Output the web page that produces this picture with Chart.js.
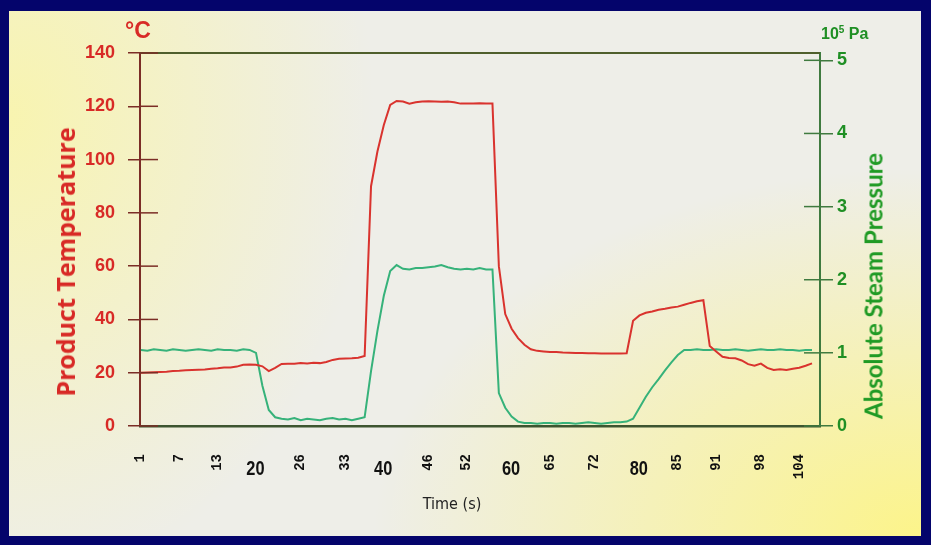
<!DOCTYPE html>
<html>
<head>
<meta charset="utf-8">
<script src="https://cdn.jsdelivr.net/npm/chart.js@4.4.1/dist/chart.umd.min.js"></script>
<style>
  html, body { margin: 0; padding: 0; }
  body { width: 931px; height: 545px; background: #04046b; position: relative; overflow: hidden; }
  #panel {
    position: absolute; left: 9px; top: 11px; width: 912px; height: 525px;
    background:
      radial-gradient(ellipse 60% 70% at 100% 100%, #fcf48a 0%, rgba(252,244,138,0) 100%),
      radial-gradient(ellipse 40% 90% at 0% 20%, #f8f4b0 0%, rgba(248,244,176,0) 100%),
      #eeeee8;
  }
  canvas { position: absolute; left: 0; top: 0; }
  .lbl { position: absolute; white-space: nowrap; font-weight: bold; }
  .rot { transform: translate(-50%, -50%) rotate(-90deg); }
</style>
</head>
<body>
<div id="panel"></div>
<canvas id="chart" width="931" height="545"></canvas>
<div class="lbl" style="left:125px; top:17px; color:#d82a26; font: bold 23px 'Liberation Sans', sans-serif;">°C</div>
<div class="lbl" style="left:821px; top:24px; color:#1f8f24; font: bold 16px 'Liberation Sans', sans-serif;">10<sup style="font-size:10px">5</sup> Pa</div>
<div class="lbl rot" style="left:65px; top:262px; color:#d82a26; font: bold 25px 'Open Sans', sans-serif;">Product Temperature</div>
<div class="lbl rot" style="left:873px; top:286px; color:#1f9a24; font: bold 24px 'Lato', sans-serif;">Absolute Steam Pressure</div>
<div class="lbl" style="left:452px; top:503px; transform: translate(-50%,-50%); color:#222; font: 16px 'DejaVu Sans Condensed', sans-serif; font-weight: normal;">Time (s)</div>
<script>
const times = [1,2,3,4,5,6,7,8,9,10,11,12,13,14,15,16,17,18,19,20,
  21,22,23,24,25,26,27,28,29,30,31,32,33,34,35,36,37,38,39,40,
  41,42,43,44,45,46,47,48,49,50,51,52,53,54,55,56,57,58,59,60,
  61,62,63,64,65,66,67,68,69,70,71,72,73,74,75,76,77,78,79,80,
  81,82,83,84,85,86,87,88,89,90,91,92,93,94,95,96,97,98,99,100,
  101,102,103,104,105,106];

// product temperature, °C
const temperature = [20.0,20.1,20.2,20.3,20.4,20.6,20.7,20.9,21.0,21.1,
  21.2,21.5,21.7,22.0,22.0,22.3,23.0,23.1,23.0,22.4,
  20.6,21.8,23.3,23.4,23.4,23.6,23.5,23.7,23.6,24.0,
  24.8,25.2,25.3,25.4,25.6,26.3,90,103,113,120.5,
  122,121.8,121.0,121.5,121.8,121.9,121.8,121.7,121.8,121.5,
  121.0,121.0,121.0,121.1,121.0,121.0,60,42,36.5,33,
  30.5,28.8,28.2,28.0,27.8,27.8,27.6,27.5,27.4,27.4,
  27.3,27.3,27.2,27.2,27.2,27.2,27.3,39.5,41.5,42.5,
  43.0,43.6,44.0,44.5,44.8,45.5,46.2,46.8,47.2,30.0,
  28.0,26.0,25.5,25.4,24.6,23.2,22.6,23.4,21.8,21.0,
  21.3,21.0,21.5,21.9,22.6,23.5];

// absolute steam pressure, 10^5 Pa
const pressure = [1.04,1.03,1.05,1.04,1.03,1.05,1.04,1.03,1.04,1.05,
  1.04,1.03,1.05,1.04,1.04,1.03,1.05,1.04,1.0,0.55,
  0.22,0.12,0.10,0.09,0.11,0.08,0.10,0.09,0.08,0.10,
  0.11,0.09,0.10,0.08,0.10,0.12,0.75,1.3,1.78,2.12,
  2.2,2.15,2.14,2.16,2.16,2.17,2.18,2.2,2.17,2.15,
  2.14,2.15,2.14,2.16,2.14,2.14,0.45,0.25,0.13,0.06,
  0.04,0.04,0.03,0.04,0.04,0.03,0.04,0.04,0.03,0.04,
  0.05,0.04,0.03,0.04,0.05,0.05,0.06,0.1,0.25,0.4,
  0.53,0.64,0.76,0.87,0.97,1.04,1.04,1.05,1.04,1.04,
  1.05,1.04,1.04,1.05,1.04,1.03,1.04,1.05,1.04,1.04,
  1.05,1.04,1.04,1.03,1.04,1.04];

const timeTicks = [1,7,13,20,26,33,40,46,52,60,65,72,80,85,91,98,104];
const boldTimeTicks = [20,40,60,80];
const pressureTicks = [0,1,2,3,4,5];

const tickMarks = {
  id: 'tickMarks',
  afterDraw(chart) {
    const ctx = chart.ctx;
    const area = chart.chartArea;
    const yl = chart.scales.y, yr = chart.scales.y1, x = chart.scales.x;
    ctx.save();
    // top frame line
    ctx.strokeStyle = '#4f5f2c';
    ctx.lineWidth = 2;
    ctx.beginPath();
    ctx.moveTo(area.left, area.top);
    ctx.lineTo(area.right, area.top);
    ctx.stroke();
    // inner half of the crossing tick marks
    ctx.lineWidth = 1.5;
    ctx.strokeStyle = '#7b2d26';
    yl.ticks.forEach(t => {
      const py = yl.getPixelForValue(t.value);
      ctx.beginPath(); ctx.moveTo(area.left, py); ctx.lineTo(area.left + 18, py); ctx.stroke();
    });
    ctx.strokeStyle = '#3f7a3f';
    yr.ticks.forEach(t => {
      const py = yr.getPixelForValue(t.value);
      ctx.beginPath(); ctx.moveTo(area.right - 16, py); ctx.lineTo(area.right, py); ctx.stroke();
    });
    // bold horizontal time labels (narrowed)
    ctx.fillStyle = '#111';
    ctx.font = "bold 21px 'Liberation Sans', sans-serif";
    ctx.textAlign = 'center';
    ctx.textBaseline = 'middle';
    boldTimeTicks.forEach(v => {
      ctx.save();
      ctx.translate(x.getPixelForValue(v) - 7, 469);
      ctx.scale(0.78, 1);
      ctx.fillText(String(v), 0, 0);
      ctx.restore();
    });
    ctx.restore();
  }
};

new Chart(document.getElementById('chart'), {
  type: 'line',
  data: {
    labels: times,
    datasets: [{
      label: 'Product Temperature',
      data: temperature,
      yAxisID: 'y',
      borderColor: '#d9332e',
      borderWidth: 2,
      pointRadius: 0,
      tension: 0
    }, {
      label: 'Absolute Steam Pressure',
      data: pressure,
      yAxisID: 'y1',
      borderColor: '#36b27a',
      borderWidth: 2,
      pointRadius: 0,
      tension: 0
    }]
  },
  options: {
    responsive: false,
    animation: false,
    devicePixelRatio: 1,
    layout: { padding: { top: 53, left: 0, right: 0, bottom: 0 } },
    plugins: { legend: { display: false }, tooltip: { enabled: false } },
    scales: {
      x: {
        type: 'linear',
        min: 0.85,
        max: 107.25,
        afterBuildTicks: s => { s.ticks = timeTicks.map(v => ({ value: v })); },
        afterFit: s => { s.height = 119; },
        grid: { display: true, drawOnChartArea: false, drawTicks: false },
        border: { display: true, color: '#3d5530', width: 2.5 },
        ticks: {
          autoSkip: false,
          minRotation: 90,
          maxRotation: 90,
          padding: 28,
          color: '#111',
          font: { family: "'Liberation Mono', monospace", size: 14, weight: 'bold' },
          callback: v => boldTimeTicks.includes(v) ? '' : String(v)
        }
      },
      y: {
        position: 'left',
        min: 0,
        max: 140,
        afterFit: s => { s.width = 140; },
        grid: { drawOnChartArea: false, tickLength: 12, color: '#7b2d26', lineWidth: 1.5 },
        border: { display: true, color: '#7b2d26', width: 2 },
        ticks: {
          stepSize: 20,
          padding: 13,
          color: '#d82a26',
          font: { family: "'Liberation Sans', sans-serif", size: 18, weight: 'bold' }
        }
      },
      y1: {
        position: 'right',
        min: 0,
        max: 5.1,
        afterBuildTicks: s => { s.ticks = pressureTicks.map(v => ({ value: v })); },
        afterFit: s => { s.width = 111; },
        grid: { drawOnChartArea: false, tickLength: 13, color: '#3f7a3f', lineWidth: 1.5 },
        border: { display: true, color: '#3f7a3f', width: 2 },
        ticks: {
          padding: 4,
          color: '#1f8f24',
          font: { family: "'Liberation Sans', sans-serif", size: 18, weight: 'bold' }
        }
      }
    }
  },
  plugins: [tickMarks]
});
</script>
</body>
</html>
